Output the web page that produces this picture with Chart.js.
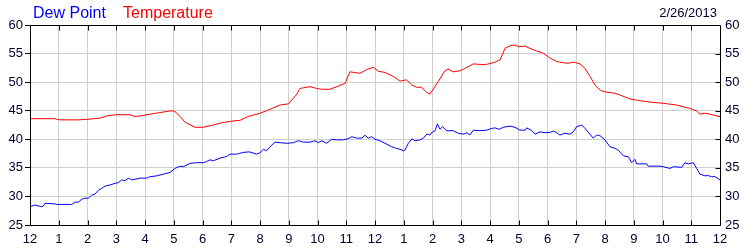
<html>
<head>
<meta charset="UTF-8"/>
<style>
html, body {
 width: 100%;
 height: 100%;
 margin: 0px;
 border: 0;
 overflow: hidden;
 display: block;
 background-color: #ffffff;
}
</style>
<script src="https://cdn.jsdelivr.net/npm/chart.js@4.4.0/dist/chart.umd.min.js"></script>
<script type="text/javascript">
var chartDate = '2/26/2013';
var seriesNames = ['Dew Point', 'Temperature'];
var hourLabels = ['12','1','2','3','4','5','6','7','8','9','10','11','12','1','2','3','4','5','6','7','8','9','10','11','12'];
var yTicks = [25, 30, 35, 40, 45, 50, 55, 60];

// hours since midnight, degrees F
var tempHours = [0, 0.87, 1.04, 1.7, 2.0, 2.43, 2.68, 3.0, 3.48, 3.65, 3.85, 4.07, 4.42, 4.8, 4.94, 5.05,
    5.22, 5.39, 5.74, 6.02, 6.37, 6.68, 7.13, 7.3, 7.58, 8.0, 8.23, 8.7, 8.99, 9.28, 9.39, 9.74, 9.97,
    10.15, 10.43, 10.67, 10.96, 11.13, 11.48, 11.71, 11.94, 12.12, 12.35, 12.64, 12.87, 13.1, 13.28,
    13.45, 13.62, 13.8, 13.91, 14.2, 14.43, 14.55, 14.72, 14.96, 15.13, 15.42, 15.65, 15.88, 16.17,
    16.35, 16.52, 16.7, 16.87, 16.99, 17.22, 17.39, 17.62, 17.86, 18.09, 18.32, 18.55, 18.72, 18.9,
    19.13, 19.3, 19.48, 19.65, 19.83, 20.0, 20.35, 20.52, 20.87, 21.22, 21.57, 22.03, 22.32, 22.49,
    22.72, 22.96, 23.19, 23.3, 23.48, 23.65, 24.0];
var tempValues = [43.6, 43.6, 43.4, 43.4, 43.5, 43.7, 44.1, 44.3, 44.3, 44.0, 44.1, 44.3, 44.6, 44.9, 45.0, 44.8,
    44.0, 43.0, 42.1, 42.1, 42.5, 42.9, 43.25, 43.3, 44.0, 44.55, 45.0, 46.0, 46.2, 47.9, 48.9, 49.2, 48.9,
    48.75, 48.75, 49.2, 49.8, 51.8, 51.55, 52.2, 52.6, 51.9, 51.7, 51.0, 50.2, 50.4, 49.5,
    49.1, 49.1, 48.2, 47.9, 50.1, 52.0, 52.3, 51.8, 52.0, 52.4, 53.2, 53.1, 53.1, 53.5,
    53.9, 55.9, 56.4, 56.5, 56.2, 56.3, 55.9, 55.45, 55.05, 54.2, 53.6, 53.4, 53.3, 53.5,
    53.2, 52.4, 51.0, 49.5, 48.6, 48.3, 48.05, 47.75, 47.05, 46.75, 46.5, 46.3, 46.1, 46.0,
    45.7, 45.4, 44.95, 44.4, 44.55, 44.4, 43.95];

var dewHours = [0, 0.17, 0.41, 0.46, 0.52, 0.87, 0.93, 1.45, 1.57, 1.68, 1.8, 1.91, 2.03, 2.15, 2.26, 2.38,
    2.49, 2.61, 2.78, 2.96, 3.07, 3.19, 3.3, 3.42, 3.54, 3.65, 3.83, 4.06, 4.17, 4.41, 4.64, 4.87, 5.04,
    5.22, 5.33, 5.57, 5.8, 6.03, 6.14, 6.26, 6.38, 6.61, 6.84, 6.96, 7.19, 7.3, 7.42, 7.63, 7.88, 8.0,
    8.12, 8.23, 8.35, 8.52, 8.7, 8.93, 9.16, 9.33, 9.51, 9.74, 9.91, 10.03, 10.15, 10.32, 10.49, 10.67,
    10.9, 11.07, 11.19, 11.36, 11.54, 11.65, 11.77, 11.88, 12.0, 12.17, 12.35, 12.58, 12.75, 12.87,
    12.99, 13.04, 13.16, 13.28, 13.39, 13.57, 13.68, 13.8, 13.91, 14.0, 14.09, 14.17, 14.26, 14.35,
    14.49, 14.72, 14.9, 15.07, 15.19, 15.3, 15.42, 15.65, 15.88, 16.06, 16.17, 16.32, 16.46, 16.7,
    16.87, 17.04, 17.22, 17.28, 17.45, 17.57, 17.74, 17.91, 18.09, 18.2, 18.32, 18.43, 18.61, 18.78,
    18.9, 19.01, 19.19, 19.36, 19.59, 19.71, 19.83, 20.0, 20.17, 20.35, 20.46, 20.64, 20.81, 20.93,
    21.04, 21.1, 21.45, 21.5, 21.91, 22.03, 22.26, 22.38, 22.67, 22.78, 22.9, 23.07, 23.19, 23.3,
    23.48, 23.59, 23.71, 23.83, 24.0];
var dewValues = [28.2, 28.5, 28.2, 28.3, 28.8, 28.7, 28.6, 28.6, 29.0, 29.0, 29.5, 29.7, 29.7, 30.25, 30.4, 31.1,
    31.4, 31.8, 32.0, 32.3, 32.4, 32.9, 32.75, 33.2, 32.9, 33.0, 33.2, 33.2, 33.45, 33.6, 33.9, 34.2, 34.9,
    35.3, 35.2, 35.8, 35.9, 35.9, 36.1, 36.4, 36.25, 36.7, 37.0, 37.4, 37.4, 37.55, 37.7, 37.8, 37.4, 37.65,
    38.25, 38.0, 38.7, 39.5, 39.4, 39.3, 39.4, 39.75, 39.5, 39.5, 39.75, 39.4, 39.75, 39.3, 40.0, 39.9,
    39.9, 40.1, 40.45, 40.2, 40.2, 40.7, 40.2, 40.45, 40.0, 39.75, 39.3, 38.7, 38.4, 38.25,
    38.0, 38.1, 39.3, 40.05, 39.75, 39.9, 40.2, 40.9, 40.75, 41.3, 41.5, 42.7, 41.75, 42.2,
    41.5, 41.5, 41.05, 40.9, 41.15, 40.75, 41.6, 41.5, 41.6, 41.9, 42.0, 41.75, 42.1, 42.3,
    42.1, 41.6, 41.6, 42.0, 41.5, 40.9, 41.3, 41.15, 41.2, 41.45, 41.15, 40.75, 41.05, 40.9,
    41.3, 42.2, 42.5, 41.6, 40.2, 40.75, 40.6, 39.9, 38.7, 38.4, 38.1, 37.1, 36.95, 35.9,
    36.5, 35.7, 35.7, 35.3, 35.3, 35.2, 34.9, 35.2, 35.1, 35.9, 35.7, 35.9, 34.9, 33.9,
    33.6, 33.65, 33.45, 33.45, 32.9];

var myChart;
var labelFont = { family: 'Liberation Sans, Arial, sans-serif', size: 13 };
var labelColor = '#000033';

function toPoints(xs, ys) {
    var pts = [];
    for (var i = 0; i < xs.length; i++) pts.push({ x: xs[i], y: ys[i] });
    return pts;
}

// border, inner tick marks and the header texts
var framePlugin = {
    id: 'frame',
    afterDraw: function(chart) {
        var c = chart.ctx, a = chart.chartArea;
        var xs = chart.scales.x, ys = chart.scales.y;
        var L = Math.round(a.left) + 0.5, R = Math.round(a.right) + 0.5;
        var T = Math.round(a.top) + 0.5, B = Math.round(a.bottom) + 0.5;
        c.save();
        c.strokeStyle = '#000000';
        c.lineWidth = 1;
        c.beginPath();
        c.rect(L, T, R - L, B - T);
        xs.ticks.forEach(function(t) {
            var px = Math.round(xs.getPixelForValue(t.value)) + 0.5;
            c.moveTo(px, T); c.lineTo(px, T + 5);
            c.moveTo(px, B); c.lineTo(px, B - 5);
        });
        ys.ticks.forEach(function(t) {
            var py = Math.round(ys.getPixelForValue(t.value)) + 0.5;
            c.moveTo(R, py); c.lineTo(R - 5, py);
        });
        c.stroke();

        c.textBaseline = 'alphabetic';
        c.font = '16px Liberation Sans, Arial, sans-serif';
        c.textAlign = 'left';
        c.fillStyle = '#0000ff';
        c.fillText(seriesNames[0], 33, 18);
        c.fillStyle = '#ff0000';
        c.fillText(seriesNames[1], 123, 18);
        c.font = '13px Liberation Sans, Arial, sans-serif';
        c.textAlign = 'right';
        c.fillStyle = labelColor;
        c.fillText(chartDate, 717, 17);
        c.restore();
    }
};

function init() {
    var ctx = document.getElementById('myChart').getContext('2d');
    myChart = new Chart(ctx, {
        type: 'line',
        data: {
            datasets: [{
                label: seriesNames[0],
                data: toPoints(dewHours, dewValues),
                borderColor: '#0000ff',
                borderWidth: 1,
                pointRadius: 0,
                tension: 0
            }, {
                label: seriesNames[1],
                data: toPoints(tempHours, tempValues),
                borderColor: '#ff0000',
                borderWidth: 1,
                pointRadius: 0,
                tension: 0
            }]
        },
        options: {
            responsive: false,
            animation: false,
            layout: { padding: { top: 25, left: 0, right: 0, bottom: 0 } },
            plugins: {
                legend: { display: false },
                tooltip: { enabled: false }
            },
            scales: {
                x: {
                    type: 'linear',
                    min: 0,
                    max: 24,
                    afterFit: function(s) { s.height = 25; },
                    afterBuildTicks: function(s) {
                        s.ticks = hourLabels.map(function(l, i) { return { value: i }; });
                    },
                    grid: { color: '#d0d0d0', drawTicks: false },
                    border: { display: false },
                    ticks: {
                        autoSkip: false,
                        maxRotation: 0,
                        padding: 7,
                        color: labelColor,
                        font: labelFont,
                        callback: function(v) { return hourLabels[v]; }
                    }
                },
                y: {
                    position: 'left',
                    min: 25,
                    max: 60,
                    afterFit: function(s) { s.width = 30; },
                    afterBuildTicks: function(s) {
                        s.ticks = yTicks.map(function(v) { return { value: v }; });
                    },
                    grid: { color: '#d0d0d0', tickLength: 5, tickColor: '#000000' },
                    border: { display: false },
                    ticks: { padding: 2, color: labelColor, font: labelFont }
                },
                y2: {
                    position: 'right',
                    min: 25,
                    max: 60,
                    afterFit: function(s) { s.width = 30; },
                    afterBuildTicks: function(s) {
                        s.ticks = yTicks.map(function(v) { return { value: v }; });
                    },
                    grid: { display: false, drawTicks: false },
                    border: { display: false },
                    ticks: { padding: 5, color: labelColor, font: labelFont }
                }
            }
        },
        plugins: [framePlugin]
    });
}
</script>
<title>Dew Point / Temperature</title>
</head>

<body onload="JavaScript:init();">
<canvas id="myChart" width="750" height="250"></canvas>
</body>
</html>
